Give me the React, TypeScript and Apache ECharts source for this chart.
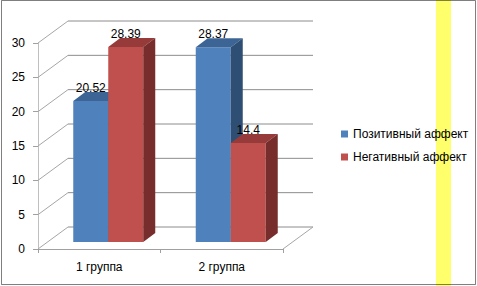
import React, { useEffect, useRef } from "react";
import * as echarts from "echarts";

const categories = ["1 группа", "2 группа"];
const seriesNames = ["Позитивный аффект", "Негативный аффект"];
const positive = [20.52, 28.37];
const negative = [28.39, 14.4];
const yTicks = [0, 5, 10, 15, 20, 25, 30];

const COLORS = [
  { front: "#4F81BD", top: "#3C6494", side: "#2F4E74" },
  { front: "#C0504D", top: "#963B39", side: "#772D2B" },
];
const BAR_OFF = [9, -7];
const BAR_DEPTH = [12, -9];
const WALL_OFF = [30, -22];
const BAR_FRAC = 0.2857;
const FONT = "'Liberation Sans', Arial, sans-serif";

export default function App() {
  const ref = useRef<HTMLDivElement>(null);
  useEffect(() => {
    if (!ref.current) return;
    const chart = echarts.init(ref.current, undefined, { renderer: "svg" });

    const gridRender = (params: any, api: any) => {
      const v = api.value(0);
      const cs = params.coordSys;
      const y = api.coord([0, v])[1];
      const x0 = cs.x;
      const x1 = cs.x + cs.width;
      const children: any[] = [
        {
          type: "line",
          shape: { x1: x0, y1: y, x2: x0 + WALL_OFF[0], y2: y + WALL_OFF[1] },
          style: { stroke: "#a6a6a6", lineWidth: 1 },
        },
        {
          type: "line",
          shape: { x1: x0 + WALL_OFF[0], y1: y + WALL_OFF[1], x2: x1 + WALL_OFF[0], y2: y + WALL_OFF[1] },
          style: { stroke: "#8c8c8c", lineWidth: 1 },
        },
      ];
      if (v === 0) {
        children.push({
          type: "line",
          shape: { x1: x1, y1: y, x2: x1 + WALL_OFF[0], y2: y + WALL_OFF[1] },
          style: { stroke: "#a6a6a6", lineWidth: 1 },
        });
      }
      return { type: "group", children };
    };

    const makeBarRender = (si: number) => (params: any, api: any) => {
      const i = api.value(0);
      const v = api.value(1);
      const band = api.size([1, 0])[0];
      const bw = band * BAR_FRAC;
      const base = api.coord([i, 0]);
      const top = api.coord([i, v]);
      const xl = base[0] + BAR_OFF[0] + (si === 0 ? -bw : 0);
      const yb = base[1] + BAR_OFF[1];
      const yt = top[1] + BAR_OFF[1];
      const c = COLORS[si];
      const [dx, dy] = BAR_DEPTH;
      return {
        type: "group",
        children: [
          {
            type: "rect",
            shape: { x: xl, y: yt, width: bw, height: yb - yt },
            style: { fill: c.front },
          },
          {
            type: "polygon",
            shape: { points: [[xl, yt], [xl + bw, yt], [xl + bw + dx, yt + dy], [xl + dx, yt + dy]] },
            style: { fill: c.top },
          },
          {
            type: "polygon",
            shape: { points: [[xl + bw, yt], [xl + bw + dx, yt + dy], [xl + bw + dx, yb + dy], [xl + bw, yb]] },
            style: { fill: c.side },
          },
          {
            type: "text",
            style: {
              text: String(v),
              x: xl + bw / 2,
              y: yt - 13,
              align: "center",
              verticalAlign: "middle",
              fill: "#000",
              font: `12px ${FONT}`,
            },
          },
        ],
      };
    };

    chart.setOption({
      animation: false,
      backgroundColor: "#fff",
      textStyle: { fontFamily: FONT },
      graphic: [
        {
          type: "rect",
          z: -10,
          shape: { x: 436, y: 0, width: 15, height: 286 },
          style: { fill: "#FFFF6B" },
        },
        {
          type: "rect",
          z: 100,
          shape: { x: 1.5, y: 0.5, width: 474, height: 284 },
          style: { fill: "none", stroke: "rgba(0,0,0,0.5)", lineWidth: 1 },
        },
      ],
      legend: {
        data: seriesNames,
        orient: "vertical",
        left: 336,
        top: 123,
        itemWidth: 7,
        itemHeight: 7,
        itemGap: 11,
        icon: "rect",
        textStyle: { fontSize: 12, color: "#000", fontFamily: FONT },
      },
      grid: { left: 38, top: 43, width: 245, height: 206 },
      xAxis: {
        type: "category",
        data: categories,
        axisLine: { lineStyle: { color: "#a0a0a0" } },
        axisTick: { show: true, length: 4, lineStyle: { color: "#a0a0a0" } },
        axisLabel: { margin: 12, fontSize: 12, color: "#000", fontFamily: FONT },
      },
      yAxis: {
        type: "value",
        min: 0,
        max: 30,
        interval: 5,
        axisLine: { show: true, lineStyle: { color: "#bfbfbf" } },
        axisTick: { show: true, length: 5, lineStyle: { color: "#a0a0a0" } },
        axisLabel: { margin: 13, fontSize: 12, color: "#000", fontFamily: FONT },
        splitLine: { show: false },
      },
      series: [
        {
          type: "custom",
          name: "grid3d",
          renderItem: gridRender,
          data: yTicks.map((t) => [t]),
          encode: { y: 0 },
          silent: true,
          z: 1,
        },
        {
          type: "custom",
          name: seriesNames[0],
          itemStyle: { color: COLORS[0].front },
          renderItem: makeBarRender(0),
          data: positive.map((v, i) => [i, v]),
          encode: { x: 0, y: 1 },
          z: 2,
        },
        {
          type: "custom",
          name: seriesNames[1],
          itemStyle: { color: COLORS[1].front },
          renderItem: makeBarRender(1),
          data: negative.map((v, i) => [i, v]),
          encode: { x: 0, y: 1 },
          z: 3,
        },
      ],
    });
    return () => chart.dispose();
  }, []);
  return (
    <div
      ref={ref}
      style={{ position: "fixed", left: 0, top: 0, width: 477, height: 286, background: "#fff" }}
    />
  );
}
